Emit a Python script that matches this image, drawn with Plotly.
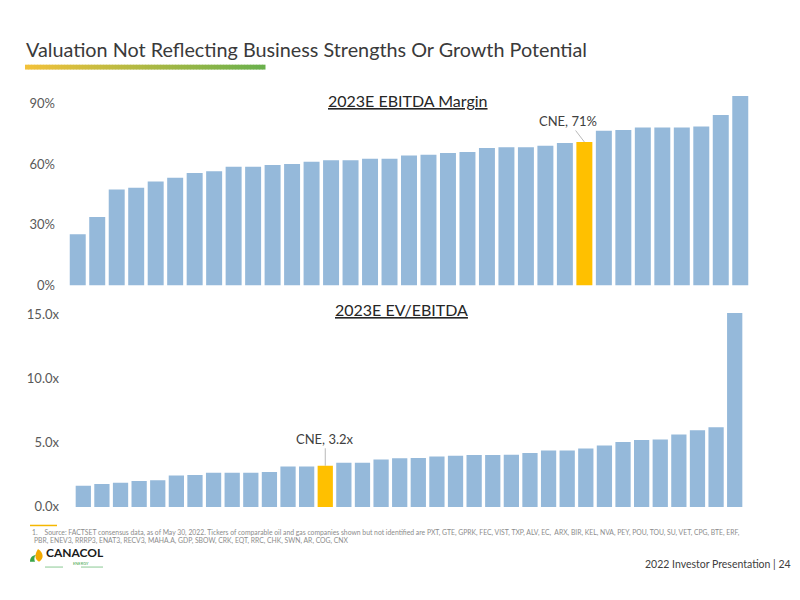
import plotly.graph_objects as go

W, H = 800, 600

# 2023E EBITDA margin (%) of peers, sorted ascending; CNE highlighted
margin_vals = [25.4, 33.9, 47.5, 48.4, 51.4, 53.3, 55.6, 56.5, 58.8, 58.8,
               59.6, 60.1, 61.2, 62.0, 62.0, 62.7, 62.7, 64.3, 64.7, 65.5,
               66.0, 68.0, 68.4, 68.4, 69.1, 70.5, 71.0, 76.6, 76.9, 78.2,
               78.2, 78.2, 78.6, 84.3, 93.7]
margin_cne = 26
margin_ticks = [0, 30, 60, 90]
margin_ticktext = ['0%', '30%', '60%', '90%']

# 2023E EV/EBITDA (x) of peers, sorted ascending; CNE highlighted
ev_vals = [1.65, 1.78, 1.88, 2.01, 2.08, 2.44, 2.49, 2.66, 2.66, 2.66,
           2.72, 3.15, 3.15, 3.2, 3.43, 3.43, 3.68, 3.78, 3.81, 3.93,
           3.98, 4.04, 4.04, 4.06, 4.19, 4.39, 4.39, 4.54, 4.77, 5.05,
           5.2, 5.25, 5.63, 5.96, 6.19, 15.1]
ev_cne = 13
ev_ticks = [0, 5, 10, 15]
ev_ticktext = ['0.0x', '5.0x', '10.0x', '15.0x']

BLUE = '#95B9DA'
GOLD = '#FFC000'
FONT = 'Lato'


def px(x):
    return x / W


def py(y):
    return 1 - y / H


def colors(n, hi):
    return [GOLD if i == hi else BLUE for i in range(n)]


def pixpath(cmds):
    # svg path given in page pixels -> paper coords
    out = []
    for tok in cmds:
        if isinstance(tok, str):
            out.append(tok)
        else:
            out.append('%.5f,%.5f' % (px(tok[0]), py(tok[1])))
    return ' '.join(out)


fig = go.Figure()
fig.add_trace(go.Bar(x=list(range(len(margin_vals))), y=margin_vals,
                     marker=dict(color=colors(len(margin_vals), margin_cne), line_width=0),
                     width=0.82, xaxis='x', yaxis='y', hoverinfo='skip'))
fig.add_trace(go.Bar(x=list(range(len(ev_vals))), y=ev_vals,
                     marker=dict(color=colors(len(ev_vals), ev_cne), line_width=0),
                     width=0.82, xaxis='x2', yaxis='y2', hoverinfo='skip'))

tickfont = dict(family=FONT, size=13, color='#595959')
fig.update_layout(
    width=W, height=H, showlegend=False,
    margin=dict(l=0, r=0, t=0, b=0),
    paper_bgcolor='white', plot_bgcolor='white',
    xaxis=dict(domain=[px(68), px(750)], range=[-0.5, len(margin_vals) - 0.5],
               visible=False, anchor='y'),
    yaxis=dict(domain=[py(286.7), py(90)], range=[0, 95.2], anchor='x',
               tickvals=margin_ticks, ticktext=margin_ticktext, tickfont=tickfont,
               showgrid=False, zeroline=False, showline=False, ticks='',
               ticklabelstandoff=12),
    xaxis2=dict(domain=[px(74), px(744)], range=[-0.5, len(ev_vals) - 0.5],
                visible=False, anchor='y2'),
    yaxis2=dict(domain=[py(513), py(313)], range=[0, 15.23], anchor='x2',
                tickvals=ev_ticks, ticktext=ev_ticktext, tickfont=tickfont,
                showgrid=False, zeroline=False, showline=False, ticks='',
                ticklabelstandoff=14),
)

# title and gradient underline
fig.add_annotation(x=px(24), y=py(45), xref='paper', yref='paper', xanchor='left',
                   yanchor='middle', showarrow=False,
                   text='Valuation Not Reflecting Business Strengths Or Growth Potential',
                   font=dict(family=FONT, size=19.8, color='#3a3a3a'))
c0, c1 = (242, 193, 58), (106, 176, 76)
n = 80
for i in range(n):
    t = i / (n - 1)
    c = tuple(round(a + (b - a) * t) for a, b in zip(c0, c1))
    x0 = 25 + (265 - 25) * i / n
    x1 = 25 + (265 - 25) * (i + 1) / n + 0.5
    fig.add_shape(type='rect', xref='paper', yref='paper', x0=px(x0), x1=px(x1),
                  y0=py(66), y1=py(61), line_width=0, fillcolor='rgb(%d,%d,%d)' % c)

# panel titles
fig.add_annotation(x=px(408), y=py(86), xref='paper', yref='paper', showarrow=False,
                   text='<u>2023E EBITDA Margin</u>',
                   font=dict(family=FONT, size=16, color='#262626'))
fig.add_annotation(x=px(402), y=py(311), xref='paper', yref='paper', showarrow=False,
                   text='<u>2023E EV/EBITDA</u>',
                   font=dict(family=FONT, size=16, color='#262626'))

# CNE callouts
lblfont = dict(family=FONT, size=13, color='#404040')
fig.add_annotation(x=margin_cne, y=margin_vals[margin_cne], xref='x', yref='y',
                   text='CNE, %d%%' % round(margin_vals[margin_cne]), showarrow=True,
                   arrowhead=0, arrowwidth=0.8, arrowcolor='#a6a6a6', ax=-16, ay=-21,
                   font=lblfont)
fig.add_annotation(x=ev_cne, y=ev_vals[ev_cne], xref='x2', yref='y2',
                   text='CNE, %.1fx' % ev_vals[ev_cne], showarrow=True,
                   arrowhead=0, arrowwidth=0.8, arrowcolor='#a6a6a6', ax=0, ay=-27,
                   font=lblfont)

# footnote
fig.add_shape(type='line', xref='paper', yref='paper', x0=px(30), x1=px(57),
              y0=py(532), y1=py(532), line=dict(color='#F5B700', width=1.5))
note1 = ('1.    Source: FACTSET consensus data, as of May 30, 2022. Tickers of comparable oil and gas '
         'companies shown but not identified are PXT, GTE, GPRK, FEC, VIST, TXP, ALV, EC,  ARX, BIR, '
         'KEL, NVA, PEY, POU, TOU, SU, VET, CPG, BTE, ERF,')
note2 = 'PBR, ENEV3, RRRP3, ENAT3, RECV3, MAHA.A, GDP, SBOW, CRK, EQT, RRC, CHK, SWN, AR, COG, CNX'
notefont = dict(family=FONT, size=6.8, color='#8c8c8c')
fig.add_annotation(x=px(31), y=py(539.5), xref='paper', yref='paper', xanchor='left',
                   yanchor='middle', showarrow=False, text=note1, font=notefont, borderpad=0)
fig.add_annotation(x=px(33), y=py(547.5), xref='paper', yref='paper', xanchor='left',
                   yanchor='middle', showarrow=False, text=note2, font=notefont, borderpad=0)

# logo
fig.add_shape(type='path', xref='paper', yref='paper', line_width=0, fillcolor='#F2A900',
              path=pixpath(['M', (38, 556), 'C', (44, 560), (44, 566), (39, 569),
                            'C', (35, 567), (34, 562), (38, 556), 'Z']))
fig.add_shape(type='path', xref='paper', yref='paper', line_width=0, fillcolor='#3BA54A',
              path=pixpath(['M', (30, 569), 'C', (30, 565), (32, 563), (36, 562),
                            'C', (34, 564), (34, 567), (35, 569), 'Z']))
fig.add_annotation(x=px(45), y=py(560), xref='paper', yref='paper', xanchor='left',
                   yanchor='middle', showarrow=False, text='CANACOL', borderpad=0,
                   font=dict(family=FONT, size=12, color='#1a1a1a', weight='bold'))
fig.add_annotation(x=px(72), y=py(574.5), xref='paper', yref='paper', showarrow=False,
                   text='ENERGY', borderpad=0, font=dict(family=FONT, size=4, color='#3BA54A'))
for a, b in [(45, 63), (81, 103)]:
    fig.add_shape(type='line', xref='paper', yref='paper', x0=px(a), x1=px(b),
                  y0=py(574.5), y1=py(574.5), line=dict(color='#3BA54A', width=0.6))

fig.add_annotation(x=px(793), y=py(571), xref='paper', yref='paper', xanchor='right',
                   yanchor='middle', showarrow=False, text='2022 Investor Presentation | 24',
                   font=dict(family=FONT, size=10.5, color='#404040'))

fig.write_html("out.html", config={'displayModeBar': False},
               post_script="document.body.style.margin='0px';")
